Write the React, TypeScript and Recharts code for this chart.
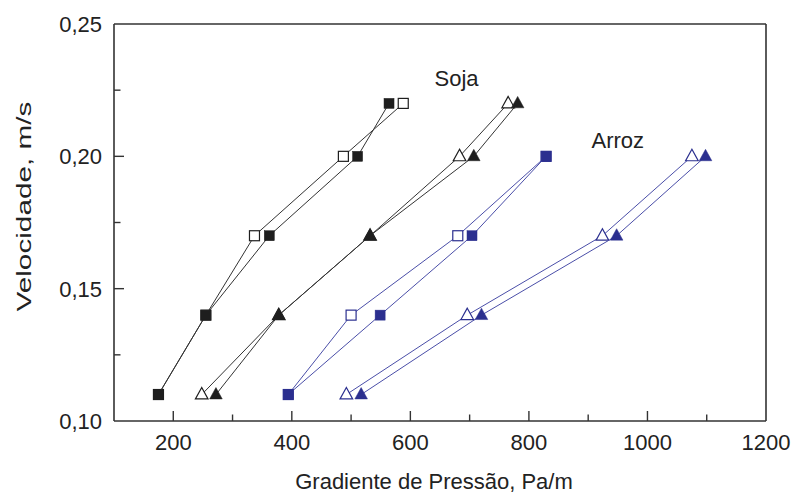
import { ScatterChart, Scatter, XAxis, YAxis, ReferenceLine, ReferenceDot } from 'recharts'

// velocidades (m/s) e gradientes de pressão (Pa/m)
const velSoja = [0.11, 0.14, 0.17, 0.2, 0.22]
const velArroz = [0.11, 0.14, 0.17, 0.2]

const sojaQuadVazio = [175, 255, 337, 487, 588]
const sojaQuadCheio = [175, 255, 362, 511, 564]
const sojaTriVazio = [248, 378, 532, 683, 765]
const sojaTriCheio = [272, 378, 532, 707, 781]

const arrozQuadVazio = [394, 500, 680, 829]
const arrozQuadCheio = [394, 549, 704, 829]
const arrozTriVazio = [492, 696, 924, 1075]
const arrozTriCheio = [517, 720, 948, 1098]

const xTicks = [200, 300, 400, 500, 600, 700, 800, 900, 1000, 1100, 1200]
const xMajor = [200, 400, 600, 800, 1000, 1200]
const yTicks = [0.1, 0.125, 0.15, 0.175, 0.2, 0.225, 0.25]
const yMajor = [0.1, 0.15, 0.2, 0.25]

const FONT = '"Liberation Sans", Arial, Helvetica, sans-serif'
const INK = '#1e1e1e'
const AXIS = '#333'
const BLUE = '#2b2f8f'
const BLUE_LINE = '#4a4ea8'

const pts = (xs: number[], ys: number[]) => xs.map((x, i) => ({ x, y: ys[i] }))
const isMajor = (list: number[], v: number) => list.some((m) => Math.abs(m - v) < 1e-6)

function square(color: string, filled: boolean) {
  return (p: any) => (
    <rect
      x={p.cx - 5}
      y={p.cy - 5}
      width={10}
      height={10}
      fill={filled ? color : '#fff'}
      stroke={color}
      strokeWidth={filled ? 0.5 : 1.2}
    />
  )
}

function triangle(color: string, filled: boolean) {
  return (p: any) => (
    <polygon
      points={`${p.cx},${p.cy - 7} ${p.cx - 6.3},${p.cy + 4.4} ${p.cx + 6.3},${p.cy + 4.4}`}
      fill={filled ? color : '#fff'}
      stroke={color}
      strokeWidth={filled ? 0.5 : 1.2}
      strokeLinejoin="miter"
    />
  )
}

function XTick({ x, y, payload }: any) {
  const v = payload.value
  const major = isMajor(xMajor, v)
  return (
    <g>
      {v < 1200 && <line x1={x} x2={x} y1={y} y2={y - (major ? 10 : 6.5)} stroke={AXIS} strokeWidth={1.4} />}
      {major && (
        <text x={x} y={y + 29} textAnchor="middle" fontSize={22} fill="#222" fontFamily={FONT}>
          {v}
        </text>
      )}
    </g>
  )
}

function YTick({ x, y, payload }: any) {
  const v = payload.value
  const major = isMajor(yMajor, v)
  return (
    <g>
      {v < 0.249 && v > 0.101 && (
        <line x1={x} x2={x + (major ? 10 : 6.5)} y1={y} y2={y} stroke={AXIS} strokeWidth={1.4} />
      )}
      {major && (
        <text x={x - 12} y={y + 8} textAnchor="end" fontSize={22} fill="#222" fontFamily={FONT}>
          {v.toFixed(2).replace('.', ',')}
        </text>
      )}
    </g>
  )
}

function XTitle({ viewBox }: any) {
  const cx = viewBox.x + viewBox.width / 2 - 6
  return (
    <text x={cx} y={viewBox.y + 68} textAnchor="middle" fontSize={22} fill="#222" fontFamily={FONT}>
      Gradiente de Pressão, Pa/m
    </text>
  )
}

function YTitle({ viewBox }: any) {
  const cx = viewBox.x + 23
  const cy = viewBox.y + viewBox.height / 2 - 16
  return (
    <text
      x={cx}
      y={cy}
      transform={`rotate(-90 ${cx} ${cy})`}
      textAnchor="middle"
      dominantBaseline="central"
      fontSize={21}
      textLength={210}
      lengthAdjust="spacingAndGlyphs"
      fill="#222"
      fontFamily={FONT}
    >
      Velocidade, m/s
    </text>
  )
}

const blackLine = { stroke: '#333', strokeWidth: 1 }
const blueLine = { stroke: BLUE_LINE, strokeWidth: 1 }

export default function App() {
  return (
    <div style={{ width: 792, height: 493, background: '#fff', fontFamily: FONT }}>
      <style>{'body{margin:0}'}</style>
      <ScatterChart width={792} height={493} margin={{ top: 24, right: 26, bottom: 0, left: 0 }}>
        <XAxis
          type="number"
          dataKey="x"
          domain={[100, 1200]}
          ticks={xTicks}
          interval={0}
          tickSize={0}
          tickMargin={0}
          tickLine={false}
          height={72}
          stroke={AXIS}
          strokeWidth={1.6}
          tick={<XTick />}
          label={<XTitle />}
        />
        <YAxis
          type="number"
          dataKey="y"
          domain={[0.1, 0.25]}
          ticks={yTicks}
          interval={0}
          tickSize={0}
          tickMargin={0}
          tickLine={false}
          width={114}
          stroke={AXIS}
          strokeWidth={1.6}
          tick={<YTick />}
          label={<YTitle />}
        />
        <ReferenceLine y={0.25} stroke={AXIS} strokeWidth={1.6} />
        <ReferenceLine x={1200} stroke={AXIS} strokeWidth={1.6} />

        <Scatter data={pts(sojaQuadVazio, velSoja)} line={blackLine} shape={square(INK, false)} isAnimationActive={false} />
        <Scatter data={pts(sojaQuadCheio, velSoja)} line={blackLine} shape={square(INK, true)} isAnimationActive={false} />
        <Scatter data={pts(sojaTriVazio, velSoja)} line={blackLine} shape={triangle(INK, false)} isAnimationActive={false} />
        <Scatter data={pts(sojaTriCheio, velSoja)} line={blackLine} shape={triangle(INK, true)} isAnimationActive={false} />

        <Scatter data={pts(arrozQuadVazio, velArroz)} line={blueLine} shape={square(BLUE, false)} isAnimationActive={false} />
        <Scatter data={pts(arrozQuadCheio, velArroz)} line={blueLine} shape={square(BLUE, true)} isAnimationActive={false} />
        <Scatter data={pts(arrozTriVazio, velArroz)} line={blueLine} shape={triangle(BLUE, false)} isAnimationActive={false} />
        <Scatter data={pts(arrozTriCheio, velArroz)} line={blueLine} shape={triangle(BLUE, true)} isAnimationActive={false} />

        <ReferenceDot
          x={678}
          y={0.2296}
          r={0}
          stroke="none"
          label={{ value: 'Soja', position: 'center', fontSize: 22, fill: '#222', fontFamily: FONT }}
        />
        <ReferenceDot
          x={950}
          y={0.2062}
          r={0}
          stroke="none"
          label={{ value: 'Arroz', position: 'center', fontSize: 22, fill: '#222', fontFamily: FONT }}
        />
      </ScatterChart>
    </div>
  )
}
